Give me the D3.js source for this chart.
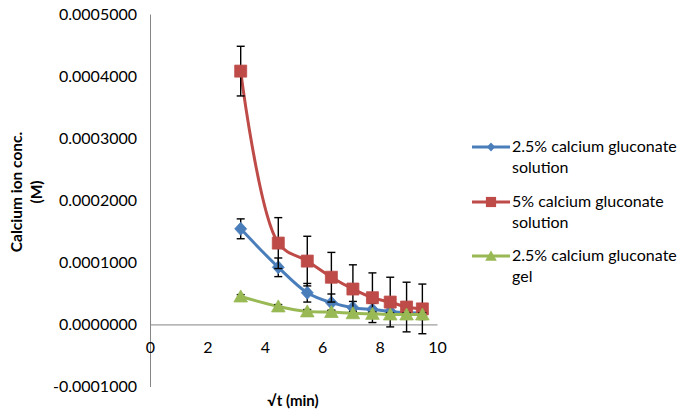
<!DOCTYPE html>
<html>
<head>
<meta charset="utf-8">
<script src="https://cdn.jsdelivr.net/npm/d3@7"></script>
<style>
  html, body { margin: 0; padding: 0; background: #fff; }
  svg { display: block; }
  text { font-family: Lato, "Open Sans", sans-serif; fill: #000; }
</style>
</head>
<body>
<svg id="chart" width="689" height="413"></svg>
<script>
// ---- data ----
const xValues = [3.16, 4.47, 5.48, 6.32, 7.07, 7.75, 8.37, 8.94, 9.49];
const seriesNames = ["2.5% calcium gluconate solution", "5% calcium gluconate solution", "2.5% calcium gluconate gel"];
const sol25 = [0.000154, 0.000092, 0.000051, 0.000035, 0.000027, 0.000024, 0.000021, 0.000019, 0.000018];
const sol25Err = [0.000016, 0.000015, 0.000015, 0.000014, 0.000010, 0.000010, 0.000010, 0.000010, 0.000010];
const sol5 = [0.000408, 0.000131, 0.000102, 0.000076, 0.000057, 0.000043, 0.000036, 0.000028, 0.000025];
const sol5Err = [0.000040, 0.000041, 0.000040, 0.000040, 0.000039, 0.000040, 0.000040, 0.000040, 0.000040];
const gel25 = [0.000045, 0.000029, 0.000021, 0.000020, 0.000018, 0.000017, 0.000016, 0.000016, 0.000016];
const gel25Err = [0.000003, 0.000003, 0.000003, 0.000003, 0.000003, 0.000003, 0.000003, 0.000003, 0.000003];
const xTicks = [0, 2, 4, 6, 8, 10];
const yTicks = [-0.0001, 0, 0.0001, 0.0002, 0.0003, 0.0004, 0.0005];
const xTitle = "√t (min)";
const yTitleLines = ["Calcium ion conc.", "(M)"];
const legendLines = [["2.5% calcium gluconate", "solution"], ["5% calcium gluconate", "solution"], ["2.5% calcium gluconate", "gel"]];

// ---- layout ----
const svg = d3.select("#chart");
const x = d3.scaleLinear().domain([0, 10]).range([150, 437]);
const y = d3.scaleLinear().domain([-0.0001, 0.0005]).range([386.5, 14]);
const axisColor = "#868686";
const colors = ["#4A7EBB", "#BE4B48", "#98B954"];

// y axis
const yAxis = d3.axisLeft(y).tickValues(yTicks).tickSize(0).tickPadding(13)
  .tickFormat(d => d3.format(".7f")(d).replace("\u2212", "-"));
const gy = svg.append("g").attr("transform", `translate(${x(0)},0)`).call(yAxis);
gy.select(".domain").attr("stroke", axisColor).attr("stroke-width", 1);
gy.selectAll("text").style("font-family", "Lato, sans-serif").style("font-size", "16px").attr("fill", "#000");

// x axis at y=0, labels placed below
const xAxis = d3.axisBottom(x).tickValues(xTicks).tickSize(0).tickPadding(17).tickFormat(d3.format("d"));
const gx = svg.append("g").attr("transform", `translate(0,${y(0)})`).call(xAxis);
gx.select(".domain").attr("stroke", axisColor).attr("stroke-width", 1);
gx.selectAll("text").style("font-family", "Lato, sans-serif").style("font-size", "16px").attr("fill", "#000");

// axis titles
svg.append("text").attr("x", 293).attr("y", 406).attr("text-anchor", "middle")
  .style("font-size", "15px").style("font-weight", "bold").text(xTitle);
const yt = svg.append("text").attr("transform", "translate(22,192) rotate(-90)")
  .attr("text-anchor", "middle").style("font-size", "15.5px").style("font-weight", "bold");
yTitleLines.forEach((t, i) => yt.append("tspan").attr("x", 0).attr("dy", i === 0 ? 0 : 20).text(t));

// series
const series = [
  { vals: sol25, err: sol25Err, color: colors[0], shape: "diamond" },
  { vals: sol5, err: sol5Err, color: colors[1], shape: "square" },
  { vals: gel25, err: gel25Err, color: colors[2], shape: "triangle" }
];
const line = d3.line().x(d => x(d[0])).y(d => y(d[1])).curve(d3.curveCatmullRom.alpha(0.5));

function markerPath(shape) {
  if (shape === "diamond") return "M0,-6.5L6,0L0,6.5L-6,0Z";
  if (shape === "square") return "M-6,-6H6V6H-6Z";
  return "M0,-6.5L6.8,5.5H-6.8Z";
}

series.forEach(s => {
  const pts = xValues.map((xv, i) => [xv, s.vals[i], s.err[i]]);
  const g = svg.append("g");
  g.append("path").datum(pts).attr("d", line).attr("fill", "none")
    .attr("stroke", s.color).attr("stroke-width", 3).attr("stroke-linejoin", "round");
  // error bars
  const eb = g.append("g").attr("stroke", "#000").attr("stroke-width", 1.4);
  pts.forEach(p => {
    const cx = x(p[0]), top = y(p[1] + p[2]), bot = y(p[1] - p[2]);
    eb.append("line").attr("x1", cx).attr("x2", cx).attr("y1", top).attr("y2", bot);
    eb.append("line").attr("x1", cx - 4).attr("x2", cx + 4).attr("y1", top).attr("y2", top);
    eb.append("line").attr("x1", cx - 4).attr("x2", cx + 4).attr("y1", bot).attr("y2", bot);
  });
  g.selectAll(".m").data(pts).enter().append("path")
    .attr("d", markerPath(s.shape))
    .attr("transform", d => `translate(${x(d[0])},${y(d[1])})`)
    .attr("fill", s.color).attr("stroke", s.color).attr("stroke-width", 0.8);
});

// legend
const legendY = [147, 202, 256];
series.forEach((s, i) => {
  const g = svg.append("g").attr("transform", `translate(0,${legendY[i]})`);
  g.append("line").attr("x1", 472).attr("x2", 510).attr("y1", 0).attr("y2", 0)
    .attr("stroke", s.color).attr("stroke-width", 3);
  const sc = s.shape === "diamond" ? 0.7 : 0.85;
  g.append("path").attr("d", markerPath(s.shape))
    .attr("transform", `translate(491,0) scale(${sc})`).attr("fill", s.color);
  const t = g.append("text").attr("x", 512).attr("y", 5).style("font-size", "16px");
  legendLines[i].forEach((ln, j) => t.append("tspan").attr("x", 512).attr("dy", j === 0 ? 0 : 21).text(ln));
});
</script>
</body>
</html>
